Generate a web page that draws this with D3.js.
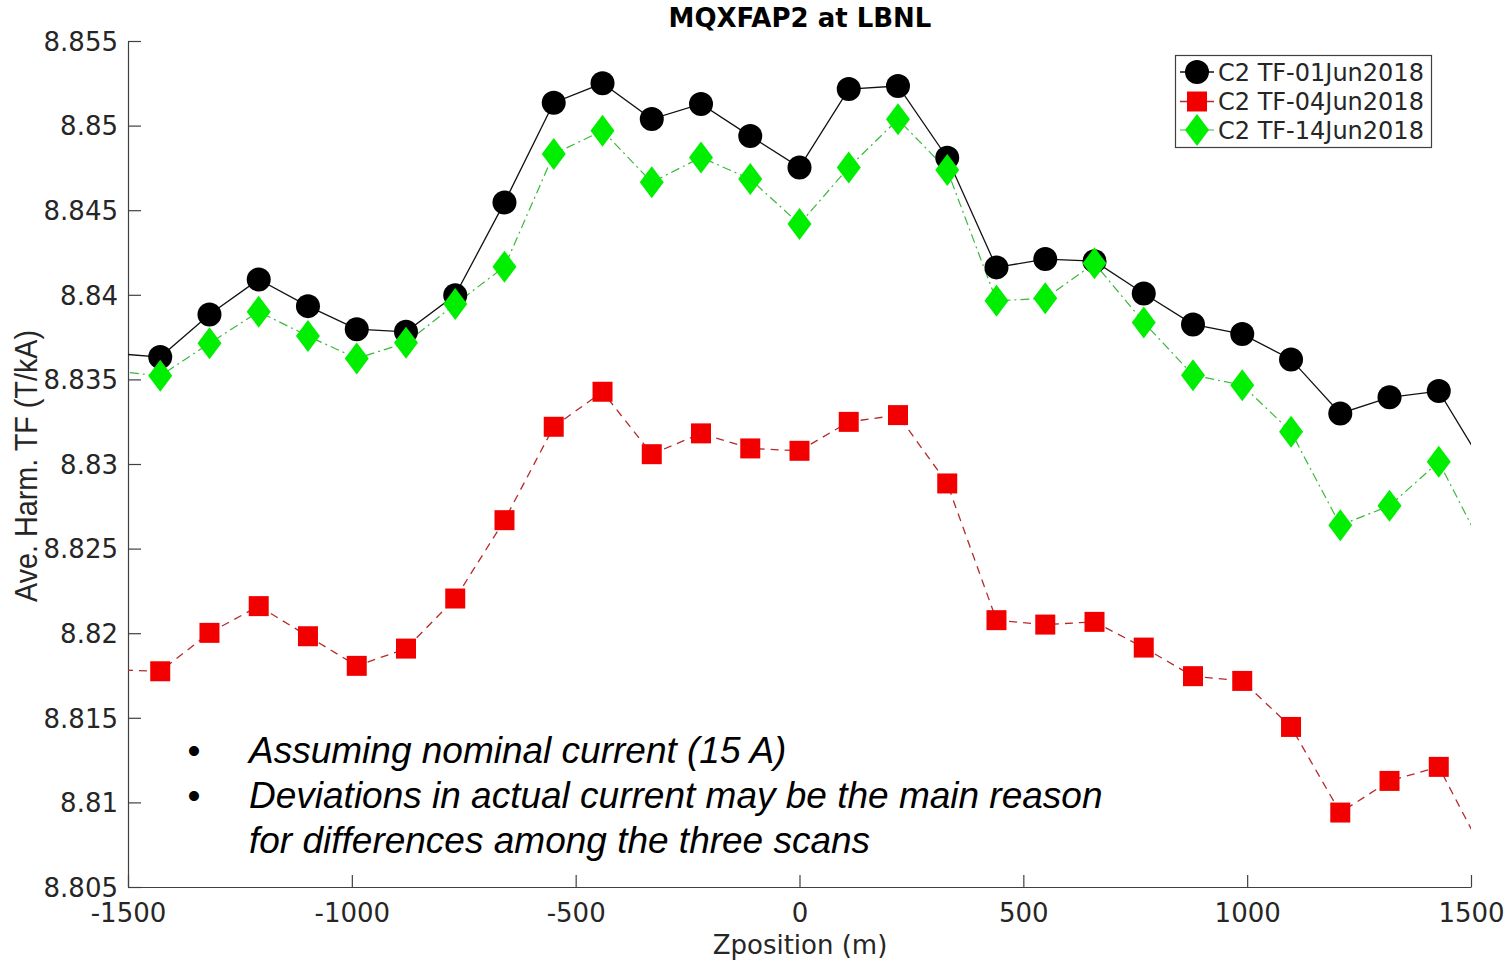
<!DOCTYPE html>
<html>
<head>
<meta charset="utf-8">
<title>MQXFAP2 at LBNL</title>
<script src="https://cdn.jsdelivr.net/npm/d3@7"></script>
<style>
  html, body { margin: 0; padding: 0; background: #ffffff; }
  svg { display: block; }
</style>
</head>
<body>
<svg id="chart" width="1512" height="961"></svg>
<script>
// Z positions of the scan (m); the outermost pair lies just beyond the axis limits
const zPosition = [-1538, -1428, -1318, -1208, -1098, -989, -879, -769, -659, -549, -440, -330, -220, -110,
  0, 110, 220, 330, 440, 549, 659, 769, 879, 989, 1098, 1208, 1318, 1428, 1538];

// Average harmonic transfer function (T/kA) per scan
const tf01Jun = [8.83655, 8.83632, 8.83884, 8.84091, 8.83933, 8.83797, 8.83781, 8.83998, 8.84546, 8.85135,
  8.85250, 8.85039, 8.85128, 8.84938, 8.84753, 8.85216, 8.85234, 8.84810, 8.84162, 8.84211,
  8.84199, 8.84008, 8.83825, 8.83768, 8.83618, 8.83299, 8.83394, 8.83431, 8.82951];
const tf04Jun = [8.81784, 8.81775, 8.82002, 8.82160, 8.81982, 8.81807, 8.81909, 8.82205, 8.82668, 8.83220,
  8.83427, 8.83058, 8.83181, 8.83092, 8.83078, 8.83249, 8.83289, 8.82885, 8.82077, 8.82051,
  8.82067, 8.81915, 8.81746, 8.81718, 8.81446, 8.80940, 8.81127, 8.81210, 8.80653];
const tf14Jun = [8.83551, 8.83521, 8.83713, 8.83900, 8.83756, 8.83624, 8.83716, 8.83945, 8.84166, 8.84832,
  8.84970, 8.84665, 8.84812, 8.84684, 8.84418, 8.84753, 8.85037, 8.84737, 8.83965, 8.83979,
  8.84186, 8.83837, 8.83525, 8.83466, 8.83190, 8.82638, 8.82753, 8.83013, 8.82446];

const seriesNames = ["C2 TF-01Jun2018", "C2 TF-04Jun2018", "C2 TF-14Jun2018"];

const xTicks = [-1500, -1000, -500, 0, 500, 1000, 1500];
const xTickLabels = ["-1500", "-1000", "-500", "0", "500", "1000", "1500"];
const yTicks = [8.805, 8.81, 8.815, 8.82, 8.825, 8.83, 8.835, 8.84, 8.845, 8.85, 8.855];
const yTickLabels = ["8.805", "8.81", "8.815", "8.82", "8.825", "8.83", "8.835", "8.84", "8.845", "8.85", "8.855"];

const titleText = "MQXFAP2 at LBNL";
const xLabelText = "Zposition (m)";
const yLabelText = "Ave. Harm. TF (T/kA)";
const noteLines = [
  { bullet: true,  text: "Assuming nominal current (15 A)" },
  { bullet: true,  text: "Deviations in actual current may be the main reason" },
  { bullet: false, text: "for differences among the three scans" }
];

// ---- layout ----
const plot = { left: 128, right: 1471, top: 41, bottom: 887 };
const axisColor = "#404040";
const textColor = "#262626";
const tickFont = "'DejaVu Sans', sans-serif";

const svg = d3.select("#chart");

const x = d3.scaleLinear().domain([-1500, 1500]).range([plot.left, plot.right]);
const y = d3.scaleLinear().domain([8.805, 8.855]).range([plot.bottom, plot.top]);

svg.append("defs").append("clipPath").attr("id", "plotClip")
  .append("rect")
  .attr("x", plot.left).attr("y", plot.top)
  .attr("width", plot.right - plot.left).attr("height", plot.bottom - plot.top);

// ---- axes (left and bottom only, ticks pointing inward) ----
const xAxis = d3.axisBottom(x)
  .tickValues(xTicks)
  .tickFormat((d, i) => xTickLabels[i])
  .tickSizeInner(-12).tickSizeOuter(0).tickPadding(35);
const gx = svg.append("g")
  .attr("transform", `translate(0,${plot.bottom})`)
  .call(xAxis);

const yAxis = d3.axisLeft(y)
  .tickValues(yTicks)
  .tickFormat((d, i) => yTickLabels[i])
  .tickSizeInner(-13).tickSizeOuter(0).tickPadding(10);
const gy = svg.append("g")
  .attr("transform", `translate(${plot.left},0)`)
  .call(yAxis);

[gx, gy].forEach(g => {
  g.select(".domain").attr("stroke", axisColor).attr("stroke-width", 1.2);
  g.selectAll(".tick line").attr("stroke", axisColor).attr("stroke-width", 1.2);
  g.selectAll(".tick text")
    .attr("fill", textColor)
    .style("font-family", tickFont)
    .style("font-size", "26px");
});
gx.selectAll(".tick text").attr("dy", "0");
gy.selectAll(".tick text").attr("dy", "0.36em");

// ---- series ----
const series = [
  { name: seriesNames[0], values: tf01Jun, line: "#111111", width: 1.3, dash: null, marker: "circle", fill: "#000000" },
  { name: seriesNames[1], values: tf04Jun, line: "#b52a2a", width: 1.3, dash: "8,6", marker: "square", fill: "#f20000" },
  { name: seriesNames[2], values: tf14Jun, line: "#3cb83c", width: 1.2, dash: "9,4,2,4", marker: "diamond", fill: "#00ee00" }
];

function markerPath(kind) {
  if (kind === "circle") return d3.symbol().type(d3.symbolCircle).size(Math.PI * 12 * 12)();
  if (kind === "square") return "M-10,-10H10V10H-10Z";
  return "M0,-16L12,0L0,16L-12,0Z";
}

const plotLayer = svg.append("g").attr("clip-path", "url(#plotClip)");

series.forEach(s => {
  const pts = zPosition.map((z, i) => [z, s.values[i]]);
  const line = d3.line().x(d => x(d[0])).y(d => y(d[1]));
  plotLayer.append("path")
    .datum(pts)
    .attr("d", line)
    .attr("fill", "none")
    .attr("stroke", s.line)
    .attr("stroke-width", s.width)
    .attr("stroke-dasharray", s.dash);

  const inside = pts.filter(d => d[0] >= -1500 && d[0] <= 1500);
  svg.append("g").selectAll("path")
    .data(inside)
    .join("path")
    .attr("transform", d => `translate(${x(d[0])},${y(d[1])})`)
    .attr("d", markerPath(s.marker))
    .attr("fill", s.fill)
    .attr("stroke", "none");
});

// ---- title and axis labels ----
svg.append("text")
  .attr("x", 800).attr("y", 27)
  .attr("text-anchor", "middle")
  .attr("fill", "#000000")
  .style("font-family", tickFont)
  .style("font-size", "26px")
  .style("font-weight", "bold")
  .text(titleText);

svg.append("text")
  .attr("x", 800).attr("y", 954)
  .attr("text-anchor", "middle")
  .attr("fill", textColor)
  .style("font-family", tickFont)
  .style("font-size", "26px")
  .text(xLabelText);

svg.append("text")
  .attr("transform", "translate(37,466) rotate(-90)")
  .attr("text-anchor", "middle")
  .attr("fill", textColor)
  .attr("textLength", 272)
  .attr("lengthAdjust", "spacingAndGlyphs")
  .style("font-family", "'Liberation Sans Narrow', 'Liberation Sans', Arial, sans-serif")
  .style("font-size", "31px")
  .text(yLabelText);

// ---- legend ----
const legend = svg.append("g");
legend.append("rect")
  .attr("x", 1175.5).attr("y", 55.5)
  .attr("width", 256).attr("height", 92)
  .attr("fill", "#ffffff")
  .attr("stroke", axisColor)
  .attr("stroke-width", 1.2);

const legendY = [72, 101.5, 130];
series.forEach((s, i) => {
  const g = legend.append("g").attr("transform", `translate(0,${legendY[i]})`);
  g.append("line")
    .attr("x1", 1180).attr("x2", 1214)
    .attr("y1", 0).attr("y2", 0)
    .attr("stroke", s.line)
    .attr("stroke-width", s.width);
  g.append("path")
    .attr("transform", "translate(1197,0)")
    .attr("d", markerPath(s.marker))
    .attr("fill", s.fill);
  g.append("text")
    .attr("x", 1218).attr("y", 0)
    .attr("dy", "0.36em")
    .attr("fill", textColor)
    .style("font-family", tickFont)
    .style("font-size", "24px")
    .text(s.name);
});

// ---- note ----
const note = svg.append("g")
  .style("font-family", "'Liberation Sans', Arial, sans-serif")
  .style("font-size", "37px")
  .attr("fill", "#000000");
noteLines.forEach((ln, i) => {
  const baseY = 763 + i * 45;
  if (ln.bullet) {
    note.append("text")
      .attr("x", 194).attr("y", baseY)
      .attr("text-anchor", "middle")
      .text("\u2022");
  }
  note.append("text")
    .attr("x", 249).attr("y", baseY)
    .style("font-style", "italic")
    .text(ln.text);
});
</script>
</body>
</html>
